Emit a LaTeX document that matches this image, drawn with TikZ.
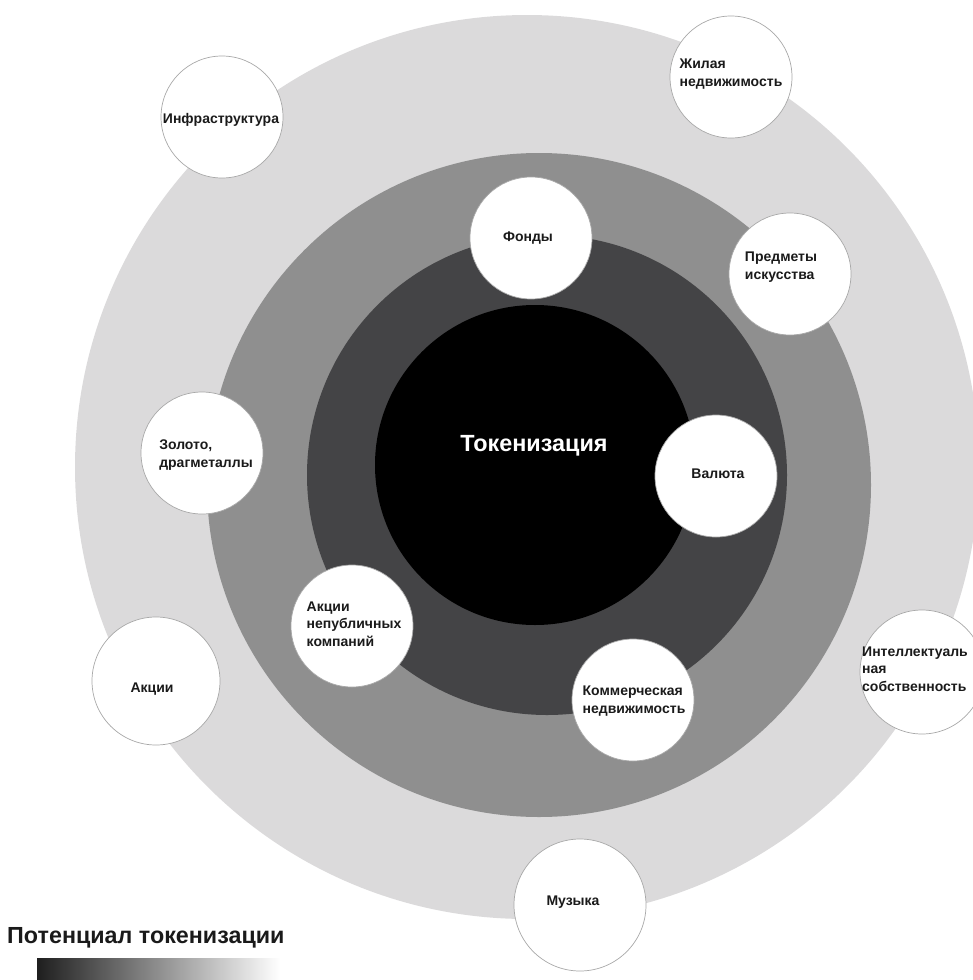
\documentclass[tikz,border=0pt]{standalone}
\usepackage{fontspec}
\setmainfont{Liberation Sans}
\definecolor{ringlight}{HTML}{DBDADB}
\definecolor{ringmid}{HTML}{8F8F8F}
\definecolor{ringdark}{HTML}{444446}
\definecolor{bordergray}{HTML}{A8A8A8}
\definecolor{textdark}{HTML}{1A1A1A}
\begin{document}
\begin{tikzpicture}[x=1pt,y=-1pt,
  bubble/.style={circle, fill=white, draw=bordergray, line width=0.7pt, minimum size=122pt, inner sep=0pt},
  lbl/.style={font=\fontsize{14}{17.5}\selectfont\bfseries, align=left, text=textdark, inner sep=0pt}]
\useasboundingbox (0,0) rectangle (973,980);
\clip (0,0) rectangle (973,980);
% concentric rings
\fill[ringlight] (527,467) circle[radius=452];
\fill[ringmid] (539,485) circle[radius=332];
\fill[ringdark] (547,475) circle[radius=240];
\fill[black] (535,465) circle[radius=160];
\node[font=\fontsize{23.4}{27}\selectfont\bfseries, text=white, inner sep=0pt] (center) at (534,446) {Токенизация};
% bubbles
\node[bubble] (infra) at (222,117) {};
\node[bubble] (zhil) at (731,77) {};
\node[bubble] (fond) at (531,238) {};
\node[bubble] (pred) at (790,274) {};
\node[bubble] (zol) at (202,453) {};
\node[bubble] (val) at (716,476) {};
\node[bubble] (neprub) at (352,626) {};
\node[bubble, minimum size=128pt] (akc) at (156,681) {};
\node[bubble] (komm) at (633,700) {};
\node[bubble, minimum size=124pt] (intel) at (922,672) {};
\node[bubble, minimum size=132pt] (muz) at (580,905) {};
% labels
\node[lbl] (t-infra) at (221,120) {Инфраструктура};
\node[lbl] (t-zhil) at (731,74) {Жилая\\недвижимость};
\node[lbl] (t-fond) at (528,238) {Фонды};
\node[lbl] (t-pred) at (781,267) {Предметы\\искусства};
\node[lbl] (t-zol) at (206,455) {Золото,\\драгметаллы};
\node[lbl] (t-val) at (718,474) {Валюта};
\node[lbl] (t-neprub) at (354,624) {Акции\\непубличных\\компаний};
\node[lbl] (t-akc) at (152,689) {Акции};
\node[lbl] (t-komm) at (634,701) {Коммерческая\\недвижимость};
\node[lbl, anchor=west] (t-intel) at (862,669) {Интеллектуаль\\ная\\собственность};
\node[lbl] (t-muz) at (573,902) {Музыка};
% legend
\node[font=\fontsize{23.3}{27}\selectfont\bfseries, text=textdark, anchor=base west, inner sep=0pt] (legend) at (7,943) {Потенциал токенизации};
\shade[left color=black!88, right color=white] (37,958) rectangle (280,985);
\end{tikzpicture}
\end{document}
